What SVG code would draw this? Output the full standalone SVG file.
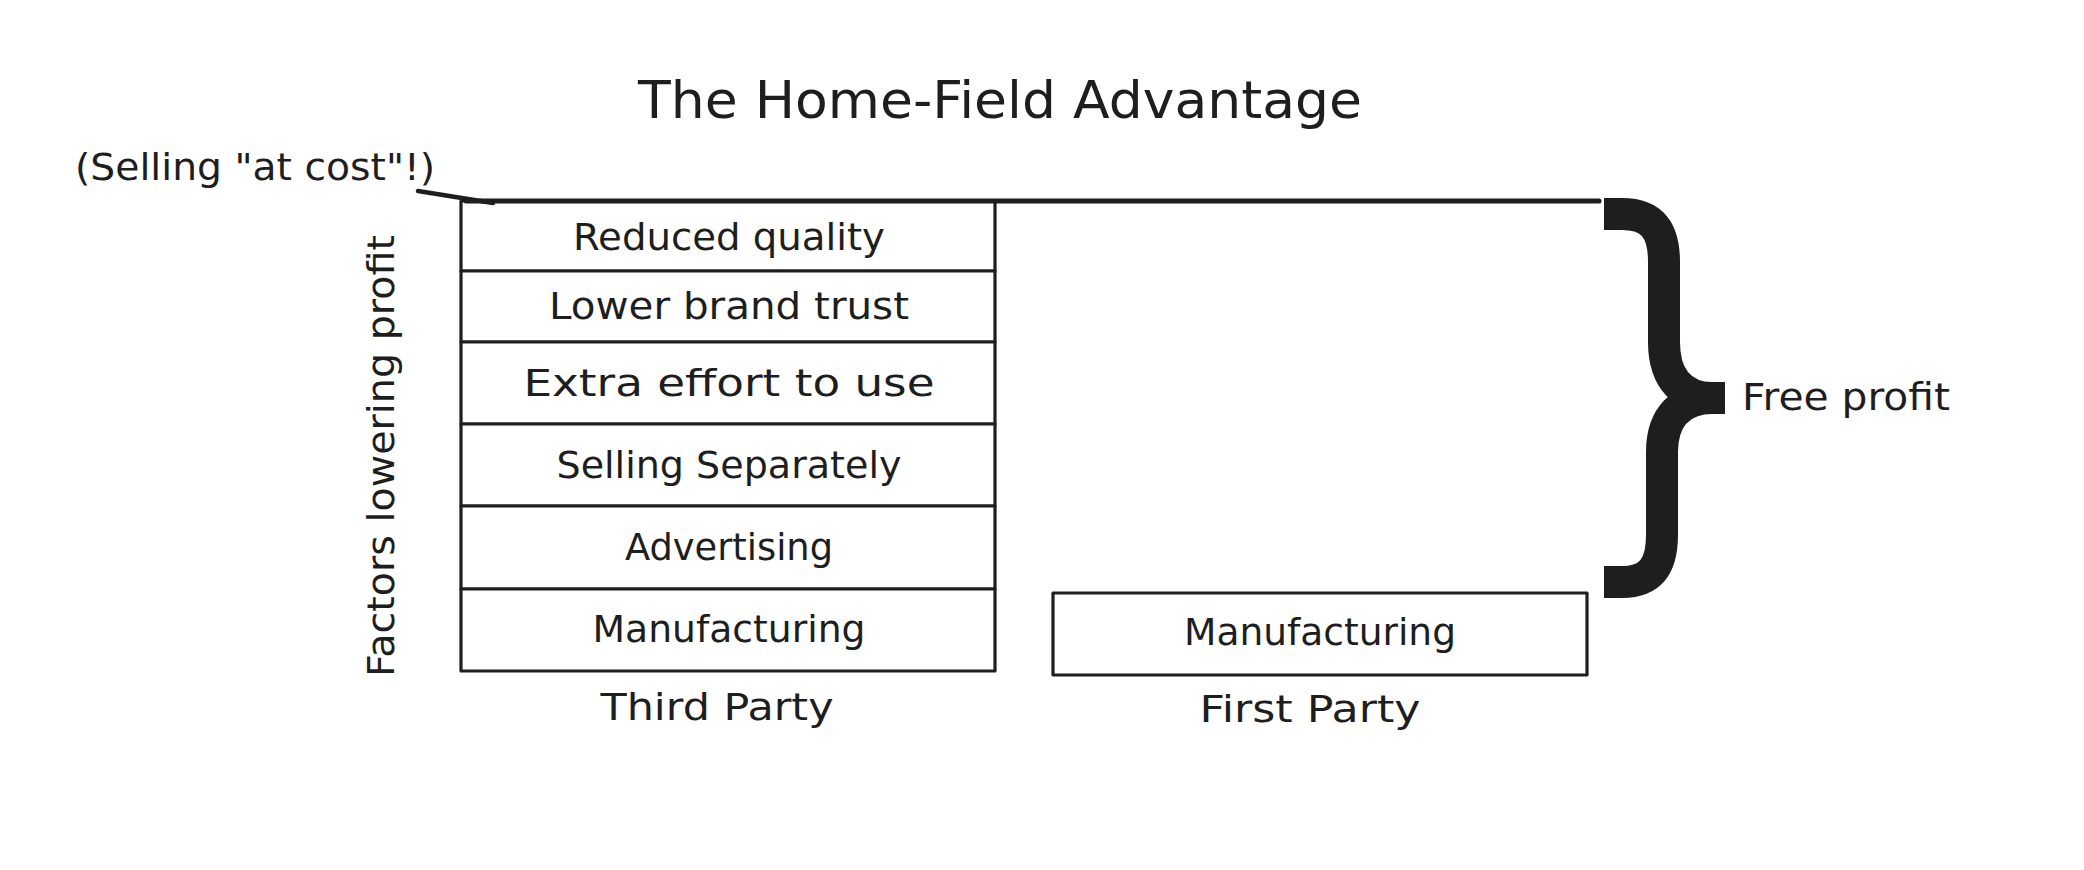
<svg xmlns="http://www.w3.org/2000/svg" width="2084" height="870" viewBox="0 0 2084 870">
<style>
  text { font-family: "DejaVu Sans", "Liberation Sans", sans-serif; fill: #1e1e1e; }
  .lbl { font-size: 38px; text-anchor: middle; }
  .box { fill: #ffffff; stroke: #1e1e1e; stroke-width: 3.2; stroke-linejoin: round; }
  .ink { fill: none; stroke: #1e1e1e; stroke-linecap: round; stroke-linejoin: round; }
</style>
<rect x="0" y="0" width="2084" height="870" fill="#ffffff"/>

<g id="title">
  <text x="1000" y="118" font-size="52" text-anchor="middle" textLength="724" lengthAdjust="spacingAndGlyphs">The Home-Field Advantage</text>
</g>

<g id="cost-note">
  <text x="75" y="180" font-size="38" textLength="360" lengthAdjust="spacingAndGlyphs">(Selling "at cost"!)</text>
</g>

<g id="axis-label">
  <text class="lbl" transform="translate(394,456) rotate(-90)" font-size="36" textLength="442" lengthAdjust="spacingAndGlyphs">Factors lowering profit</text>
</g>

<g id="third-party">
  <g id="tp-reduced-quality">
    <rect class="box" x="461" y="201" width="534" height="70"/>
    <text class="lbl" x="729" y="250" textLength="312" lengthAdjust="spacingAndGlyphs">Reduced quality</text>
  </g>
  <g id="tp-lower-brand-trust">
    <rect class="box" x="461" y="271" width="534" height="71"/>
    <text class="lbl" x="729" y="319" textLength="360" lengthAdjust="spacingAndGlyphs">Lower brand trust</text>
  </g>
  <g id="tp-extra-effort">
    <rect class="box" x="461" y="342" width="534" height="82"/>
    <text class="lbl" x="729" y="396" textLength="411" lengthAdjust="spacingAndGlyphs">Extra effort to use</text>
  </g>
  <g id="tp-selling-separately">
    <rect class="box" x="461" y="424" width="534" height="82"/>
    <text class="lbl" x="729" y="478" textLength="345" lengthAdjust="spacingAndGlyphs">Selling Separately</text>
  </g>
  <g id="tp-advertising">
    <rect class="box" x="461" y="506" width="534" height="83"/>
    <text class="lbl" x="729" y="560" textLength="208" lengthAdjust="spacingAndGlyphs">Advertising</text>
  </g>
  <g id="tp-manufacturing">
    <rect class="box" x="461" y="589" width="534" height="82"/>
    <text class="lbl" x="729" y="642" textLength="273" lengthAdjust="spacingAndGlyphs">Manufacturing</text>
  </g>
  <text class="lbl" x="717" y="720" textLength="233" lengthAdjust="spacingAndGlyphs">Third Party</text>
</g>

<g id="first-party">
  <g id="fp-manufacturing">
    <rect class="box" x="1053" y="593" width="534" height="82"/>
    <text class="lbl" x="1320" y="645" textLength="272" lengthAdjust="spacingAndGlyphs">Manufacturing</text>
  </g>
  <text class="lbl" x="1310" y="722" textLength="221" lengthAdjust="spacingAndGlyphs">First Party</text>
</g>

<g id="connectors">
  <path class="ink" d="M418,191 L493,203" stroke-width="4.5"/>
  <path class="ink" d="M466,201 L1599,201" stroke-width="5"/>
</g>

<g id="brace">
  <path fill="none" stroke="#1e1e1e" stroke-width="32" stroke-linecap="butt" stroke-linejoin="round"
        d="M1604,214 L1622,214 C1652,214 1664,230 1664,262 L1664,342 C1664,380 1684,398 1712,398 L1725,398"/>
  <path fill="none" stroke="#1e1e1e" stroke-width="32" stroke-linecap="butt" stroke-linejoin="round"
        d="M1725,398 L1712,398 C1682,398 1662,416 1662,452 L1662,535 C1662,567 1650,582 1622,582 L1604,582"/>
  <text x="1742" y="410" font-size="37" textLength="208" lengthAdjust="spacingAndGlyphs">Free profit</text>
</g>
</svg>
